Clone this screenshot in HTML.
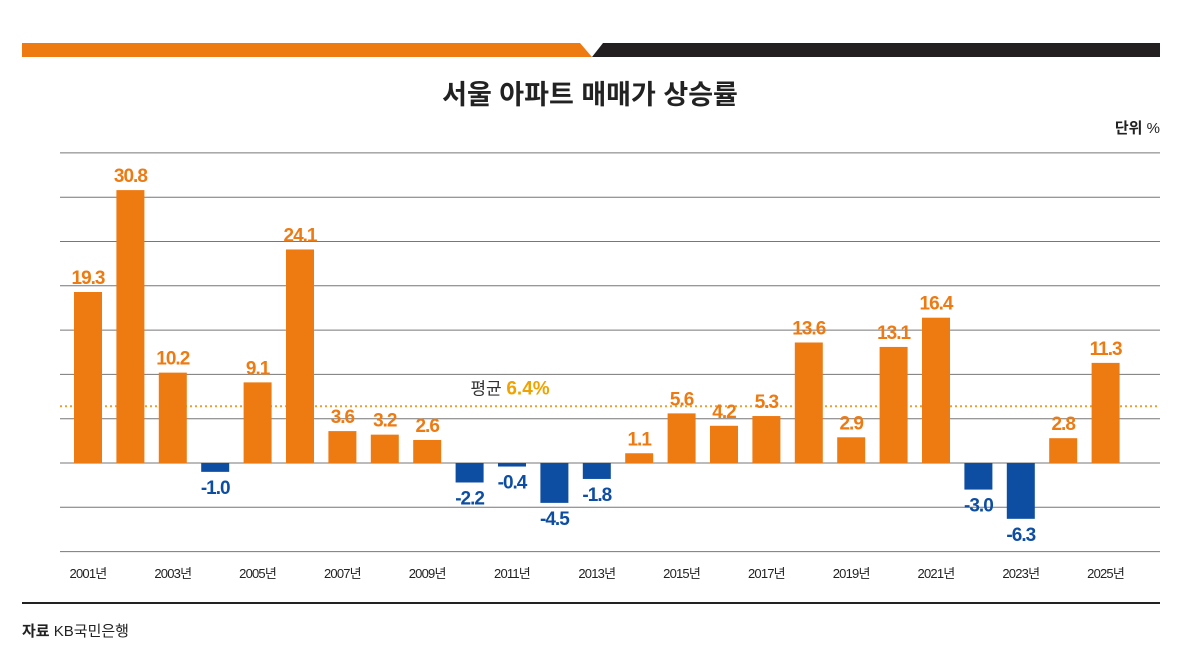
<!DOCTYPE html>
<html><head><meta charset="utf-8"><style>
body{margin:0;background:#fff;width:1201px;height:664px;overflow:hidden;font-family:"Liberation Sans","Noto Sans CJK KR",sans-serif}
svg text{font-family:"Liberation Sans","Noto Sans CJK KR",sans-serif}
</style></head><body>
<svg id="c" width="1201" height="664">
<polygon points="22,43 580,43 592,57 22,57" fill="#ee7a12"/>
<polygon points="603,43 1160,43 1160,57 592,57" fill="#231f20"/>
<text x="590" y="104" text-anchor="middle" font-size="27" font-weight="bold" fill="#222">서울 아파트 매매가 상승률</text>
<text x="1160" y="133" text-anchor="end" font-size="15" fill="#222"><tspan font-weight="bold">단위</tspan> %</text>
<g id="grid"></g><g id="bars"></g>
<line x1="22" y1="603" x2="1160" y2="603" stroke="#222" stroke-width="2"/>
<text x="22" y="636" font-size="15" fill="#222"><tspan font-weight="bold">자료</tspan> KB국민은행</text>
</svg>
<script>
const years=[2001,2002,2003,2004,2005,2006,2007,2008,2009,2010,2011,2012,2013,2014,2015,2016,2017,2018,2019,2020,2021,2022,2023,2024,2025];
const values=[19.3,30.8,10.2,-1.0,9.1,24.1,3.6,3.2,2.6,-2.2,-0.4,-4.5,-1.8,1.1,5.6,4.2,5.3,13.6,2.9,13.1,16.4,-3.0,-6.3,2.8,11.3];
const average=6.4;
const gridTicks=[-10,-5,0,5,10,15,20,25,30,35];
const NS="http://www.w3.org/2000/svg";
const y=v=>463-v*8.86;
const x=i=>88+i*42.4;
const g=document.getElementById('grid'),b=document.getElementById('bars');
function mk(t,a,p){const e=document.createElementNS(NS,t);for(const k in a)e.setAttribute(k,a[k]);p.appendChild(e);return e;}
gridTicks.forEach(t=>{const l=mk('line',{x1:60,x2:1160,y1:y(t),y2:y(t),stroke:'#777','stroke-width':1},g);

});
const al=mk('line',{x1:60,x2:1160,y1:y(average),y2:y(average),stroke:'#e9a030','stroke-width':2,'stroke-dasharray':'2,3'},b);


const at=mk('text',{x:x(10)-2,y:y(average)-12,'text-anchor':'middle','font-size':17,fill:'#333'},b);


at.innerHTML='평균 <tspan fill="#f0a300" font-weight="bold" font-size="19">'+average+'%</tspan>';
years.forEach((yr,i)=>{const v=values[i];const pos=v>=0;
const r=mk('rect',{x:x(i)-14,y:Math.min(y(v),y(0)),width:28,height:Math.abs(y(v)-y(0)),fill:pos?'#ee7a12':'#0e4ea2'},b);


const t=mk('text',{x:x(i),y:pos?y(v)-8:y(v)+22,'text-anchor':'middle','font-size':19,'font-weight':'bold',fill:pos?'#ee7a12':'#0e4ea2','letter-spacing':'-1'},b);


t.textContent=v.toFixed(1);
if(i%2==0){const l=mk('text',{x:x(i),y:578,'text-anchor':'middle','font-size':13,fill:'#222','letter-spacing':'-0.8'},b);


l.textContent=yr+'년';}
});
</script>
</body></html>
